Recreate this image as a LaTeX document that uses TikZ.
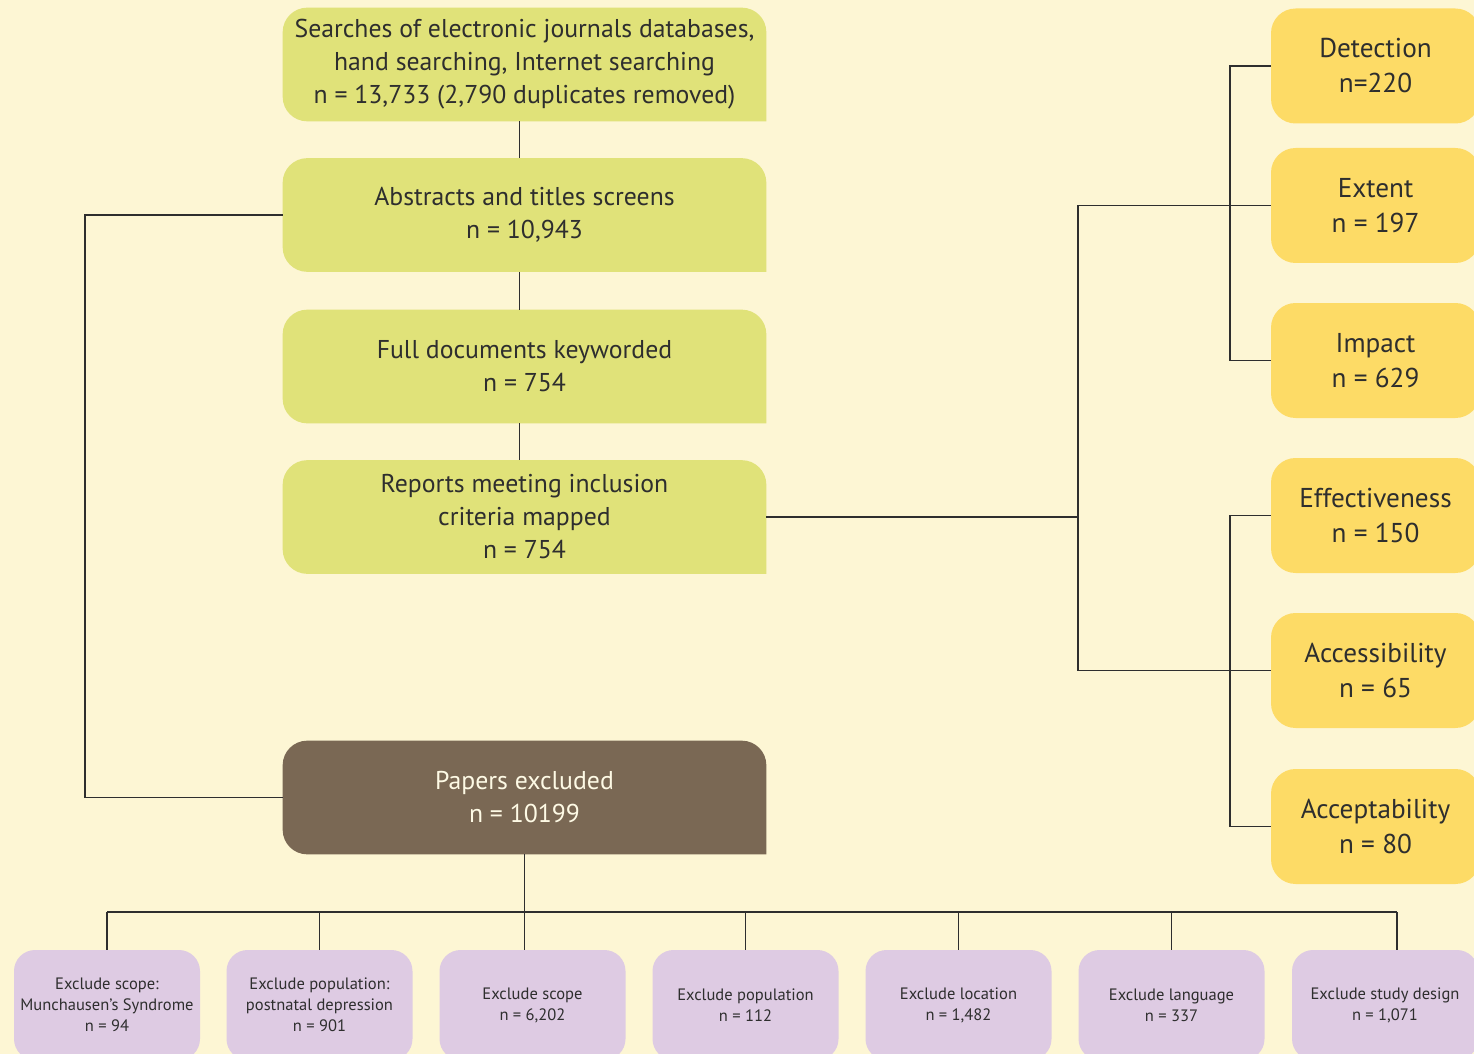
\documentclass[tikz,border=0pt]{standalone}
\usepackage{fontspec}
\setmainfont{PT Sans}
\usetikzlibrary{backgrounds}

\definecolor{cream}{HTML}{FDF6D4}
\definecolor{lime}{HTML}{E0E279}
\definecolor{gold}{HTML}{FDDB66}
\definecolor{mud}{HTML}{7A6854}
\definecolor{lilac}{HTML}{DECBE3}
\definecolor{ink}{HTML}{2E2E2E}

\begin{document}
\begin{tikzpicture}[
  stage/.style={align=center, minimum width=9.66cm, minimum height=2.26cm, inner sep=0pt, text=ink, font=\fontsize{14.65}{18.8}\selectfont},
  topic/.style={fill=gold, rounded corners=14pt, align=center, minimum width=4.18cm, minimum height=2.3cm, inner sep=0pt, text=ink, font=\fontsize{15.5}{19.9}\selectfont},
  reason/.style={fill=lilac, rounded corners=12pt, align=center, minimum width=3.72cm, minimum height=2.2cm, inner sep=0pt, text=ink, font=\fontsize{9.4}{12}\selectfont},
  link/.style={draw=ink, line width=1.1pt}
]
\useasboundingbox (0,0) rectangle (29.48,-21.08);
\clip (0,0) rectangle (29.48,-21.08);

% screening stages
\node[stage] (s1) at (10.49,-1.29) {Searches of electronic journals databases,\\ hand searching, Internet searching\\ n = 13,733 (2,790 duplicates removed)};
\node[stage] (s2) at (10.49,-4.30) {Abstracts and titles screens\\ n = 10,943};
\node[stage] (s3) at (10.49,-7.33) {Full documents keyworded\\ n = 754};
\node[stage] (s4) at (10.49,-10.34) {Reports meeting inclusion\\ criteria mapped\\ n = 754};
\node[stage, text=cream!60!white] (excl) at (10.49,-15.95) {Papers excluded\\ n = 10199};

% fills: three round corners, square bottom right
\begin{scope}[on background layer]
\fill[cream] (0,0) rectangle (29.48,-21.08);
\foreach \b/\c in {s1/lime,s2/lime,s3/lime,s4/lime,excl/mud}
  \fill[\c] (\b.south east) -- ([xshift=14pt]\b.south west)
    arc[start angle=270, end angle=180, radius=14pt] -- ([yshift=-14pt]\b.north west)
    arc[start angle=180, end angle=90, radius=14pt] -- ([xshift=-14pt]\b.north east)
    arc[start angle=90, end angle=0, radius=14pt] -- cycle;
\end{scope}

\draw[link] ([xshift=-1mm]s1.south) -- ([xshift=-1mm]s2.north);
\draw[link] ([xshift=-1mm]s2.south) -- ([xshift=-1mm]s3.north);
\draw[link] ([xshift=-1mm]s3.south) -- ([xshift=-1mm]s4.north);

% topics
\node[topic] (det) at (27.51,-1.32) {Detection\\ n=220};
\node[topic] (ext) at (27.51,-4.11) {Extent\\ n = 197};
\node[topic] (imp) at (27.51,-7.21) {Impact\\ n = 629};
\node[topic] (eff) at (27.51,-10.31) {Effectiveness\\ n = 150};
\node[topic] (acc) at (27.51,-13.41) {Accessibility\\ n = 65};
\node[topic] (acp) at (27.51,-16.53) {Acceptability\\ n = 80};

\coordinate (hub) at (21.56,0);
\coordinate (fork) at (24.60,0);
\draw[link] (s4.east) -- (s4.east -| hub);
\draw[link] (ext.west -| hub) -- (acc.west -| hub);
\draw[link] (ext.west -| hub) -- (ext.west);
\draw[link] (acc.west -| hub) -- (acc.west);
\draw[link] (det.west) -- (det.west -| fork) -- (imp.west -| fork) -- (imp.west);
\draw[link] (eff.west) -- (eff.west -| fork) -- (acp.west -| fork) -- (acp.west);

% exclusions
\coordinate (rail) at (1.70,0);
\draw[link] (s2.west) -- (s2.west -| rail) -- (excl.west -| rail) -- (excl.west);

\node[reason] (p1) at (2.14,-20.10) {Exclude scope:\\ Munchausen’s Syndrome\\ n = 94};
\node[reason] (p2) at (6.39,-20.10) {Exclude population:\\ postnatal depression\\ n = 901};
\node[reason] (p3) at (10.65,-20.10) {Exclude scope\\ n = 6,202};
\node[reason] (p4) at (14.91,-20.10) {Exclude population\\ n = 112};
\node[reason] (p5) at (19.17,-20.10) {Exclude location\\ n = 1,482};
\node[reason] (p6) at (23.43,-20.10) {Exclude language\\ n = 337};
\node[reason] (p7) at (27.70,-20.10) {Exclude study design\\ n = 1,071};

\coordinate (bus) at (0,-18.24);
\draw[link] (excl.south) -- (excl.south |- p3.north);
\draw[link] (p1.north |- bus) -- ([xshift=0.24cm]p7.north |- bus);
\foreach \p in {p1,p2,p4,p5,p6}
  \draw[link] (\p.north |- bus) -- (\p.north);
\draw[link] ([xshift=0.24cm]p7.north |- bus) -- ([xshift=0.24cm]p7.north);
\end{tikzpicture}
\end{document}
